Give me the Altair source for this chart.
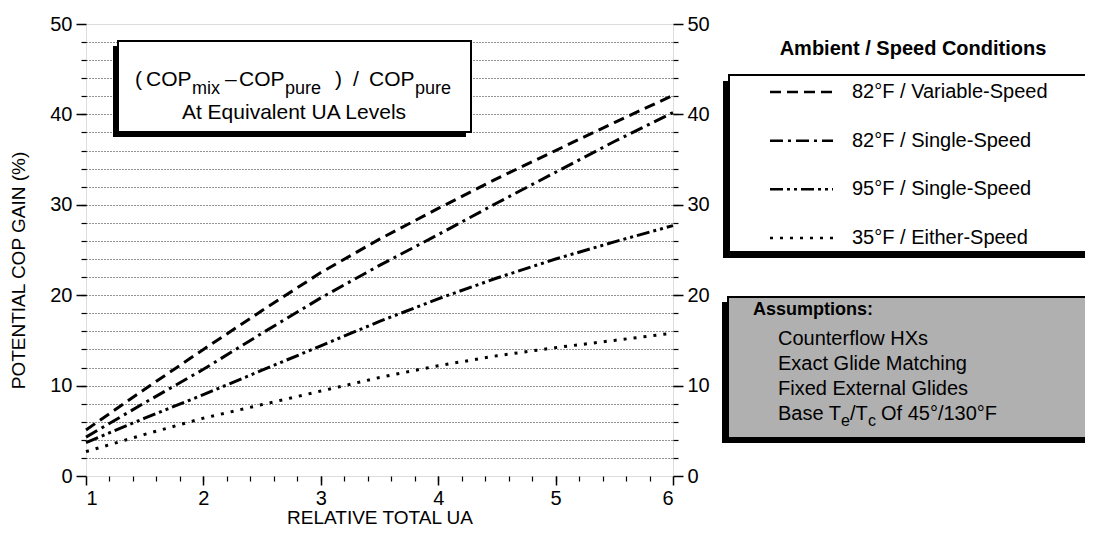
import altair as alt
import pandas as pd

# ---- data ----
ua = [1, 1.5, 2, 2.5, 3, 3.5, 4, 4.5, 5, 5.5, 6]
gain_82_var = [5.1, 9.6, 14.0, 18.3, 22.5, 26.2, 29.6, 32.9, 36.0, 39.1, 42.1]
gain_82_single = [4.3, 8.1, 11.8, 15.8, 19.7, 23.3, 26.7, 30.2, 33.6, 37.0, 40.2]
gain_95_single = [3.7, 6.4, 9.0, 11.7, 14.4, 17.1, 19.6, 21.9, 24.0, 25.9, 27.7]
gain_35_either = [2.7, 4.6, 6.4, 7.9, 9.4, 10.9, 12.2, 13.3, 14.2, 15.0, 15.8]

series = ["82°F / Variable-Speed", "82°F / Single-Speed",
          "95°F / Single-Speed", "35°F / Either-Speed"]
dashes = [[11, 6], [13, 5, 3, 5], [13, 4, 3, 4, 3, 4], [3, 7]]

y_major = [0, 10, 20, 30, 40, 50]
y_minor = [2, 4, 6, 8, 10, 12, 14, 16, 18, 20, 22, 24, 26, 28, 30, 32, 34,
           36, 38, 40, 42, 44, 46, 48]
x_major = [1, 2, 3, 4, 5, 6]
x_minor = [round(1 + 0.2 * i, 1) for i in range(1, 25)]

FONT = "Liberation Sans"

rows = []
for name, vals in zip(series, [gain_82_var, gain_82_single, gain_95_single, gain_35_either]):
    for u, g in zip(ua, vals):
        rows.append({"ua": u, "gain": g, "series": name})
df = pd.DataFrame(rows)

xs = alt.Scale(domain=[1, 6], nice=False, zero=False)
ys = alt.Scale(domain=[0, 50], nice=False, zero=False)
dash_scale = alt.Scale(domain=series, range=dashes)

ax_common = dict(labelFont=FONT, labelFontSize=20, labelColor="black",
                 tickColor="black", domain=False, grid=False)

lines = alt.Chart(df).mark_line(color="black", strokeWidth=3).encode(
    x=alt.X("ua:Q", scale=xs, axis=alt.Axis(
        orient="bottom", values=x_major, tickSize=9, tickWidth=1.5, labelPadding=3,
        title="RELATIVE TOTAL UA", titleFont=FONT, titleFontSize=19,
        titleFontWeight="normal", titleColor="black", titleY=47,
        titleBaseline="alphabetic", **ax_common)),
    y=alt.Y("gain:Q", scale=ys, axis=alt.Axis(
        orient="left", values=y_major, tickSize=10, tickWidth=1.5, labelPadding=4,
        title="POTENTIAL COP GAIN (%)", titleFont=FONT, titleFontSize=19,
        titleFontWeight="normal", titleColor="black", titleX=-68, titleY=246,
        titleBaseline="middle", titleAlign="center", **ax_common)),
    strokeDash=alt.StrokeDash("series:N", scale=dash_scale, legend=None),
    detail="series:N",
)

left_minor = alt.Chart(df).mark_point(opacity=0).encode(
    x=alt.X("ua:Q", scale=xs, axis=alt.Axis(
        orient="bottom", values=x_minor, tickSize=5, tickWidth=1.2, labels=False,
        title=None, tickColor="black", domain=False, grid=False)),
    y=alt.Y("gain:Q", scale=ys, axis=alt.Axis(
        orient="left", values=y_minor, tickSize=5, tickWidth=1.2, labels=False,
        title=None, tickColor="black", domain=False, grid=True,
        gridDash=[1, 2], gridColor="black", gridWidth=1, gridOpacity=0.85)),
)

right_major = alt.Chart(df).mark_point(opacity=0).encode(
    x=alt.X("ua:Q", scale=xs, axis=None),
    y=alt.Y("gain:Q", scale=ys, axis=alt.Axis(
        orient="right", values=y_major, tickSize=10, tickWidth=1.5,
        labelPadding=4, title=None, **ax_common)),
)

right_minor = alt.Chart(df).mark_point(opacity=0).encode(
    x=alt.X("ua:Q", scale=xs, axis=None),
    y=alt.Y("gain:Q", scale=ys, axis=alt.Axis(
        orient="right", values=y_minor, tickSize=5, tickWidth=1.2, labels=False,
        title=None, tickColor="black", domain=False, grid=False)),
)

one = pd.DataFrame({"a": [0]})


def rect(x1, x2, y1, y2, fill, stroke=None, sw=0):
    kw = dict(fill=fill)
    if stroke is not None:
        kw.update(stroke=stroke, strokeWidth=sw)
    return alt.Chart(one).mark_rect(**kw).encode(
        x=alt.value(x1), x2=alt.value(x2), y=alt.value(y1), y2=alt.value(y2))


def txt(s, x, y, size=20, weight="normal", align="left"):
    return alt.Chart(pd.DataFrame({"t": [s]})).mark_text(
        align=align, baseline="alphabetic", fontSize=size, font=FONT,
        fontWeight=weight, color="black").encode(
        x=alt.value(x), y=alt.value(y), text="t:N")


# formula box (top-left)
M, S = 21, 18
box1 = [
    rect(27, 380, 22, 113, "black"),
    rect(32, 385, 17, 108, "white", "black", 2),
    txt("(", 49, 62, M), txt("COP", 60, 62, M), txt("mix", 106, 70, S),
    txt("–", 139, 62, M), txt("COP", 153, 62, M), txt("pure", 199, 70, S),
    txt(")", 249, 62, M), txt("/", 267, 62, M), txt("COP", 283, 62, M),
    txt("pure", 329, 70, S),
    txt("At Equivalent UA Levels", 208, 95, M, align="center"),
]

# legend (right)
legend_df = pd.DataFrame({"series": series})
leg_y = alt.Scale(type="point", domain=series, range=[68, 214], padding=0)
legend_box = [
    txt("Ambient / Speed Conditions", 827, 31, size=20, weight="bold", align="center"),
    rect(637, 1030, 57, 234, "black"),
    rect(643, 1036, 51, 228, "white", "black", 2),
]
legend_lines = alt.Chart(legend_df).mark_rule(color="black", strokeWidth=2.5).encode(
    x=alt.value(684), x2=alt.value(747),
    y=alt.Y("series:N", scale=leg_y, axis=None),
    strokeDash=alt.StrokeDash("series:N", scale=dash_scale, legend=None),
)
legend_text = alt.Chart(legend_df).mark_text(
    align="left", baseline="middle", fontSize=20, font=FONT, color="black").encode(
    x=alt.value(766),
    y=alt.Y("series:N", scale=leg_y, axis=None),
    text="series:N",
)

# assumptions box
assum = [
    rect(636, 1030, 278, 419, "black"),
    rect(642, 1036, 273, 414, "#b0b0b0", "black", 2),
    txt("Assumptions:", 667, 291, size=18, weight="bold"),
    txt("Counterflow HXs", 692, 321),
    txt("Exact Glide Matching", 692, 346),
    txt("Fixed External Glides", 692, 371),
    txt("Base T", 692, 396), txt("e", 755, 402, size=16),
    txt("/T", 764, 396), txt("c", 782, 402, size=16),
    txt("Of 45°/130°F", 795, 396),
]

chart = alt.layer(
    left_minor, right_minor, right_major, lines,
    *box1, *legend_box, legend_lines, legend_text, *assum,
).resolve_scale(
    y="independent"
).resolve_axis(
    x="independent", y="independent"
).properties(
    width=587, height=452,
    padding={"left": 78, "top": 16, "right": 412, "bottom": 51},
    autosize="none",
).configure_view(
    stroke="black", strokeWidth=3
).configure(background="white")

chart.save("out.html", embed_options={"renderer": "svg", "actions": False})
